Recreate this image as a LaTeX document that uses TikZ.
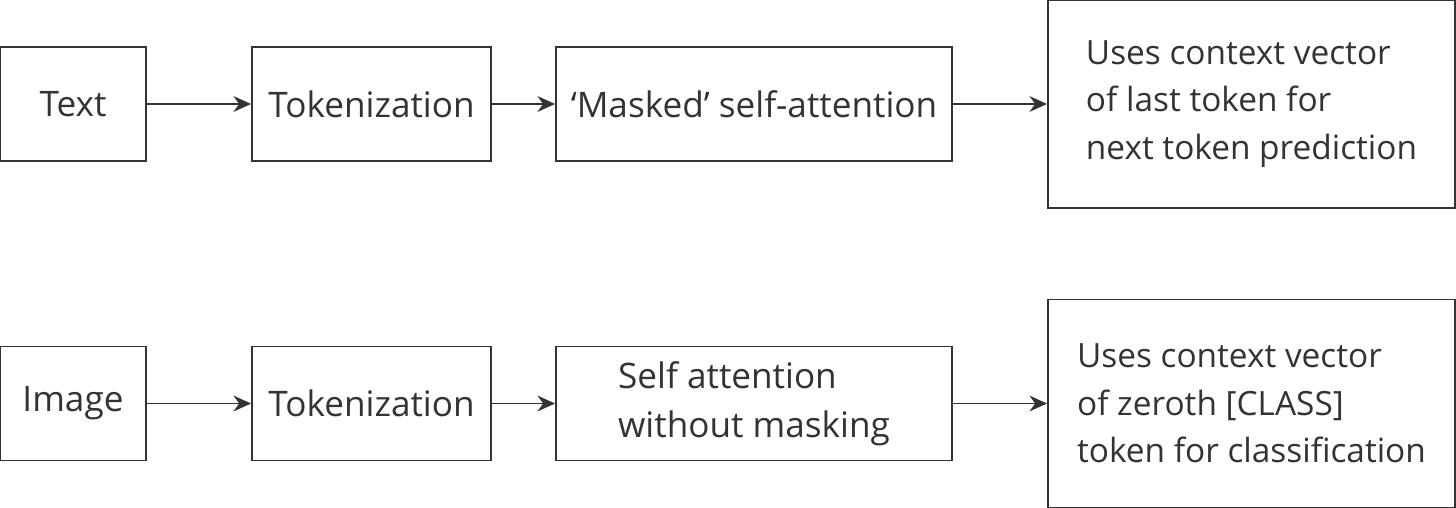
\documentclass[tikz,border=0pt]{standalone}
\usepackage{fontspec}
\setmainfont{Open Sans}
\definecolor{inkgray}{RGB}{51,51,51}
\usetikzlibrary{arrows.meta,positioning}

\begin{document}
\begin{tikzpicture}[
  blk/.style={draw=inkgray,line width=1.1pt,minimum height=2.28cm,inner sep=0pt,
    text=inkgray,font=\fontsize{20}{28}\selectfont,align=center},
  note/.style={blk,minimum width=8.14cm,minimum height=4.16cm,align=left,
    font=\fontsize{19}{27}\selectfont},
  arr/.style={-{Stealth[length=10pt,width=9pt]},inkgray,line width=1.1pt}]
  \useasboundingbox (0,0) rectangle (29.12,10.16);
  % text pipeline
  \node[blk,minimum width=2.92cm] (text) at (1.46,8.08) {Text};
  \node[blk,minimum width=4.78cm] (tokA) at (7.43,8.08) {Tokenization};
  \node[blk,minimum width=7.92cm] (masked) at (15.08,8.08) {`Masked' self-attention};
  \node[note] (nextpred) at (25.03,8.08) {Uses context vector\\of last token for\\next token prediction};
  \draw[arr] (text) -- (tokA);
  \draw[arr] (tokA) -- (masked);
  \draw[arr] (masked) -- (nextpred);
  % image pipeline
  \node[blk,minimum width=2.92cm] (image) at (1.46,2.09) {Image};
  \node[blk,minimum width=4.78cm] (tokB) at (7.43,2.09) {Tokenization};
  \node[blk,minimum width=7.92cm,align=left] (unmasked) at (15.08,2.09) {Self attention\\without masking};
  \node[note] (classify) at (25.03,2.09) {Uses context vector\\of zeroth [CLASS]\\token for classification};
  \draw[arr] (image) -- (tokB);
  \draw[arr] (tokB) -- (unmasked);
  \draw[arr] (unmasked) -- (classify);
\end{tikzpicture}
\end{document}
